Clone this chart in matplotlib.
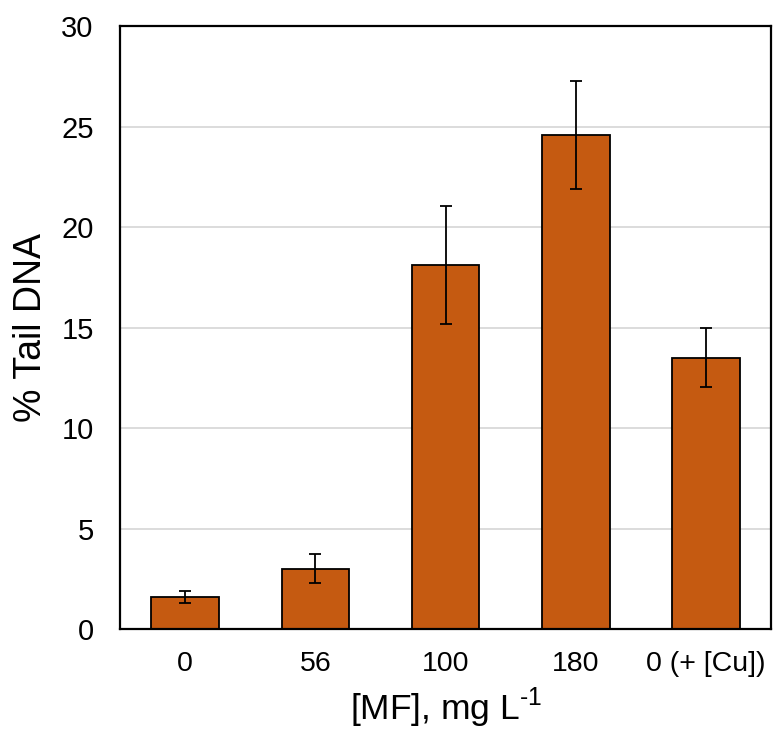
import numpy as np
import matplotlib.pyplot as plt

plt.rcParams['font.family'] = ['Liberation Sans', 'DejaVu Sans']
plt.rcParams['mathtext.fontset'] = 'custom'
plt.rcParams['mathtext.rm'] = 'Liberation Sans'

categories = ['0', '56', '100', '180', '0 (+ [Cu])']
tail_dna = [1.6, 3.0, 18.1, 24.6, 13.5]
errors = [0.3, 0.72, 2.93, 2.68, 1.46]

fig = plt.figure(figsize=(7.75, 7.37), dpi=100)
ax = fig.add_axes([0.155, 0.1465, 0.84, 0.818])

x = np.arange(len(categories))
ax.bar(x, tail_dna, width=0.52, color='#C55A11', edgecolor='black', linewidth=1.3,
       yerr=errors, capsize=4.5, error_kw={'elinewidth': 1.3, 'capthick': 1.3}, zorder=3)

ax.set_xlim(-0.5, len(categories) - 0.5)
ax.set_ylim(0, 30)
ax.set_yticks(np.arange(0, 31, 5))
ax.set_xticks(x)
ax.set_xticklabels(categories)
ax.grid(axis='y', color='#d9d9d9', linewidth=1.3, zorder=0)
ax.tick_params(axis='x', length=0, labelsize=20.5, pad=16)
ax.tick_params(axis='y', length=0, labelsize=21, pad=19)
for s in ax.spines.values():
    s.set_linewidth(1.6)
    s.set_zorder(4)

ax.set_xlabel('[MF], mg L$^{\\text{-1}}$', fontsize=25.5, labelpad=6)
ax.set_ylabel('% Tail DNA', fontsize=27, labelpad=9)

fig.savefig('out.png', dpi=100)
